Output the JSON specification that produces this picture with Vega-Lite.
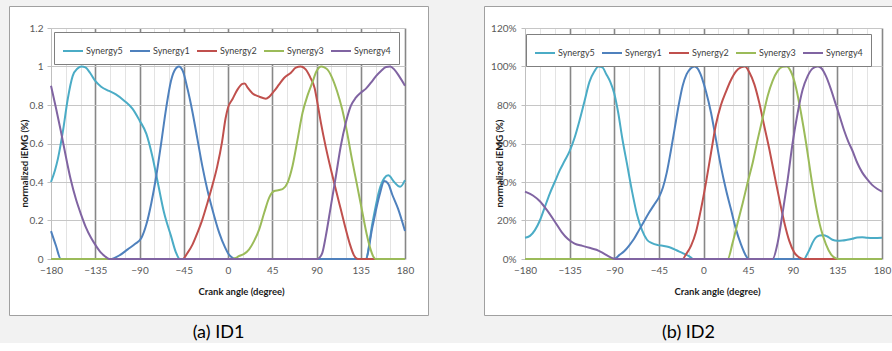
{
  "$schema": "https://vega.github.io/schema/vega-lite/v6.json",
  "background": "#f2f2f2",
  "padding": {"left": 8, "top": 5, "right": 0, "bottom": 0},
  "spacing": 54,
  "resolve": {"scale": {"color": "independent"}, "legend": {"color": "independent"}},
  "config": {
    "font": "Lato",
    "view": {"fill": "white", "stroke": "#a0a0a0", "strokeWidth": 1},
    "axis": {"labelFont": "Lato", "labelFontSize": 10, "labelColor": "#595959", "titleFont": "Lato", "titleFontSize": 9.5, "titleFontWeight": "bold", "titleColor": "#1a1a1a", "domainColor": "#bfbfbf", "tickColor": "#bfbfbf", "labelOverlap": false},
    "legend": {"orient": "none", "direction": "horizontal", "columns": 5, "title": null, "symbolType": "stroke", "symbolSize": 400, "symbolStrokeWidth": 2, "labelFont": "Lato", "labelFontSize": 9, "labelColor": "#404040", "fillColor": "white", "strokeColor": "#7f7f7f", "padding": 8, "columnPadding": 3, "labelOffset": 2},
    "title": {"font": "Lato", "fontSize": 18, "fontWeight": "normal", "color": "#000000"}
  },
  "datasets": {
    "id1": [
      {"s":"Synergy5","a":-180,"v":0.40},{"s":"Synergy5","a":-176,"v":0.46},{"s":"Synergy5","a":-173,"v":0.52},{"s":"Synergy5","a":-168,"v":0.66},{"s":"Synergy5","a":-163,"v":0.83},{"s":"Synergy5","a":-158,"v":0.95},{"s":"Synergy5","a":-153,"v":0.99},{"s":"Synergy5","a":-149,"v":1.0},{"s":"Synergy5","a":-145,"v":0.995},{"s":"Synergy5","a":-140,"v":0.965},{"s":"Synergy5","a":-135,"v":0.925},{"s":"Synergy5","a":-129,"v":0.895},{"s":"Synergy5","a":-121,"v":0.873},{"s":"Synergy5","a":-114,"v":0.855},{"s":"Synergy5","a":-105,"v":0.82},{"s":"Synergy5","a":-97,"v":0.78},{"s":"Synergy5","a":-90,"v":0.72},{"s":"Synergy5","a":-83,"v":0.65},{"s":"Synergy5","a":-77,"v":0.535},{"s":"Synergy5","a":-71.5,"v":0.40},{"s":"Synergy5","a":-65,"v":0.24},{"s":"Synergy5","a":-58,"v":0.12},{"s":"Synergy5","a":-53,"v":0.035},{"s":"Synergy5","a":-49,"v":0},{"s":"Synergy5","a":140,"v":0},{"s":"Synergy5","a":147,"v":0.19},{"s":"Synergy5","a":154,"v":0.36},{"s":"Synergy5","a":159,"v":0.42},{"s":"Synergy5","a":163,"v":0.435},{"s":"Synergy5","a":169,"v":0.40},{"s":"Synergy5","a":175,"v":0.375},{"s":"Synergy5","a":180,"v":0.41},
      {"s":"Synergy1","a":-180,"v":0.145},{"s":"Synergy1","a":-175,"v":0.07},{"s":"Synergy1","a":-170,"v":0},{"s":"Synergy1","a":-120,"v":0},{"s":"Synergy1","a":-110,"v":0.02},{"s":"Synergy1","a":-102,"v":0.05},{"s":"Synergy1","a":-94,"v":0.08},{"s":"Synergy1","a":-88,"v":0.11},{"s":"Synergy1","a":-83,"v":0.18},{"s":"Synergy1","a":-78,"v":0.29},{"s":"Synergy1","a":-73,"v":0.43},{"s":"Synergy1","a":-68,"v":0.60},{"s":"Synergy1","a":-63,"v":0.78},{"s":"Synergy1","a":-58,"v":0.925},{"s":"Synergy1","a":-53,"v":0.99},{"s":"Synergy1","a":-50,"v":1.0},{"s":"Synergy1","a":-46,"v":0.977},{"s":"Synergy1","a":-41,"v":0.88},{"s":"Synergy1","a":-36,"v":0.76},{"s":"Synergy1","a":-31,"v":0.62},{"s":"Synergy1","a":-26,"v":0.48},{"s":"Synergy1","a":-21,"v":0.36},{"s":"Synergy1","a":-16,"v":0.26},{"s":"Synergy1","a":-9,"v":0.137},{"s":"Synergy1","a":-3,"v":0.06},{"s":"Synergy1","a":0,"v":0.03},{"s":"Synergy1","a":5,"v":0.005},{"s":"Synergy1","a":8,"v":0},{"s":"Synergy1","a":140,"v":0},{"s":"Synergy1","a":147,"v":0.17},{"s":"Synergy1","a":154,"v":0.33},{"s":"Synergy1","a":159,"v":0.405},{"s":"Synergy1","a":163,"v":0.39},{"s":"Synergy1","a":167,"v":0.335},{"s":"Synergy1","a":173,"v":0.26},{"s":"Synergy1","a":180,"v":0.145},
      {"s":"Synergy2","a":-180,"v":0},{"s":"Synergy2","a":-46,"v":0},{"s":"Synergy2","a":-41,"v":0.033},{"s":"Synergy2","a":-36,"v":0.076},{"s":"Synergy2","a":-31,"v":0.137},{"s":"Synergy2","a":-26,"v":0.206},{"s":"Synergy2","a":-21,"v":0.29},{"s":"Synergy2","a":-16,"v":0.38},{"s":"Synergy2","a":-11,"v":0.48},{"s":"Synergy2","a":-6,"v":0.61},{"s":"Synergy2","a":-2.5,"v":0.73},{"s":"Synergy2","a":0,"v":0.786},{"s":"Synergy2","a":4.5,"v":0.83},{"s":"Synergy2","a":9.6,"v":0.88},{"s":"Synergy2","a":14.7,"v":0.91},{"s":"Synergy2","a":17,"v":0.912},{"s":"Synergy2","a":20,"v":0.89},{"s":"Synergy2","a":25,"v":0.86},{"s":"Synergy2","a":32,"v":0.843},{"s":"Synergy2","a":38.5,"v":0.833},{"s":"Synergy2","a":42,"v":0.843},{"s":"Synergy2","a":47,"v":0.873},{"s":"Synergy2","a":52,"v":0.907},{"s":"Synergy2","a":57,"v":0.94},{"s":"Synergy2","a":64,"v":0.968},{"s":"Synergy2","a":69,"v":0.994},{"s":"Synergy2","a":74,"v":1.0},{"s":"Synergy2","a":79,"v":0.985},{"s":"Synergy2","a":84,"v":0.94},{"s":"Synergy2","a":88,"v":0.89},{"s":"Synergy2","a":91,"v":0.81},{"s":"Synergy2","a":94.4,"v":0.71},{"s":"Synergy2","a":99.5,"v":0.58},{"s":"Synergy2","a":104.6,"v":0.466},{"s":"Synergy2","a":109.7,"v":0.36},{"s":"Synergy2","a":114.7,"v":0.258},{"s":"Synergy2","a":119.8,"v":0.154},{"s":"Synergy2","a":124,"v":0.076},{"s":"Synergy2","a":128,"v":0.02},{"s":"Synergy2","a":132,"v":0},{"s":"Synergy2","a":180,"v":0},
      {"s":"Synergy3","a":-180,"v":0},{"s":"Synergy3","a":3,"v":0},{"s":"Synergy3","a":8,"v":0.005},{"s":"Synergy3","a":11,"v":0.015},{"s":"Synergy3","a":16,"v":0.025},{"s":"Synergy3","a":21.5,"v":0.05},{"s":"Synergy3","a":26.6,"v":0.094},{"s":"Synergy3","a":31.7,"v":0.154},{"s":"Synergy3","a":36.8,"v":0.24},{"s":"Synergy3","a":42,"v":0.32},{"s":"Synergy3","a":47,"v":0.353},{"s":"Synergy3","a":52,"v":0.358},{"s":"Synergy3","a":56,"v":0.365},{"s":"Synergy3","a":60.6,"v":0.397},{"s":"Synergy3","a":65.6,"v":0.483},{"s":"Synergy3","a":70.7,"v":0.62},{"s":"Synergy3","a":75.8,"v":0.76},{"s":"Synergy3","a":80.9,"v":0.85},{"s":"Synergy3","a":86,"v":0.92},{"s":"Synergy3","a":90,"v":0.975},{"s":"Synergy3","a":95,"v":1.0},{"s":"Synergy3","a":98,"v":0.995},{"s":"Synergy3","a":101,"v":0.985},{"s":"Synergy3","a":106,"v":0.94},{"s":"Synergy3","a":111,"v":0.87},{"s":"Synergy3","a":116,"v":0.78},{"s":"Synergy3","a":121,"v":0.66},{"s":"Synergy3","a":126,"v":0.52},{"s":"Synergy3","a":131,"v":0.39},{"s":"Synergy3","a":136,"v":0.26},{"s":"Synergy3","a":141,"v":0.13},{"s":"Synergy3","a":145,"v":0.05},{"s":"Synergy3","a":148,"v":0.01},{"s":"Synergy3","a":150,"v":0},{"s":"Synergy3","a":180,"v":0},
      {"s":"Synergy4","a":-180,"v":0.90},{"s":"Synergy4","a":-175,"v":0.786},{"s":"Synergy4","a":-170,"v":0.665},{"s":"Synergy4","a":-165,"v":0.535},{"s":"Synergy4","a":-160,"v":0.414},{"s":"Synergy4","a":-154.6,"v":0.31},{"s":"Synergy4","a":-149.5,"v":0.232},{"s":"Synergy4","a":-144.4,"v":0.163},{"s":"Synergy4","a":-139.3,"v":0.11},{"s":"Synergy4","a":-134.2,"v":0.068},{"s":"Synergy4","a":-129.2,"v":0.033},{"s":"Synergy4","a":-124,"v":0.01},{"s":"Synergy4","a":-120.5,"v":0},{"s":"Synergy4","a":91,"v":0},{"s":"Synergy4","a":93,"v":0.007},{"s":"Synergy4","a":96,"v":0.033},{"s":"Synergy4","a":99.5,"v":0.12},{"s":"Synergy4","a":104.6,"v":0.275},{"s":"Synergy4","a":109.7,"v":0.43},{"s":"Synergy4","a":114.7,"v":0.587},{"s":"Synergy4","a":119.8,"v":0.708},{"s":"Synergy4","a":124.9,"v":0.795},{"s":"Synergy4","a":130,"v":0.838},{"s":"Synergy4","a":135,"v":0.864},{"s":"Synergy4","a":140.3,"v":0.885},{"s":"Synergy4","a":145.4,"v":0.916},{"s":"Synergy4","a":150.5,"v":0.95},{"s":"Synergy4","a":155.6,"v":0.977},{"s":"Synergy4","a":160.7,"v":0.997},{"s":"Synergy4","a":165,"v":1.0},{"s":"Synergy4","a":169,"v":0.985},{"s":"Synergy4","a":174,"v":0.95},{"s":"Synergy4","a":180,"v":0.90}
    ],
    "id2": [
      {"s":"Synergy5","a":-180,"v":0.11},{"s":"Synergy5","a":-175,"v":0.12},{"s":"Synergy5","a":-170,"v":0.15},{"s":"Synergy5","a":-165,"v":0.20},{"s":"Synergy5","a":-160,"v":0.27},{"s":"Synergy5","a":-155,"v":0.34},{"s":"Synergy5","a":-150,"v":0.40},{"s":"Synergy5","a":-145,"v":0.46},{"s":"Synergy5","a":-140,"v":0.51},{"s":"Synergy5","a":-135,"v":0.56},{"s":"Synergy5","a":-130,"v":0.63},{"s":"Synergy5","a":-125,"v":0.72},{"s":"Synergy5","a":-120,"v":0.82},{"s":"Synergy5","a":-115,"v":0.92},{"s":"Synergy5","a":-110,"v":0.975},{"s":"Synergy5","a":-106,"v":1.0},{"s":"Synergy5","a":-102,"v":0.995},{"s":"Synergy5","a":-98,"v":0.96},{"s":"Synergy5","a":-94,"v":0.92},{"s":"Synergy5","a":-90,"v":0.86},{"s":"Synergy5","a":-86,"v":0.76},{"s":"Synergy5","a":-82,"v":0.63},{"s":"Synergy5","a":-77,"v":0.49},{"s":"Synergy5","a":-72,"v":0.35},{"s":"Synergy5","a":-67,"v":0.23},{"s":"Synergy5","a":-62,"v":0.15},{"s":"Synergy5","a":-57,"v":0.10},{"s":"Synergy5","a":-52,"v":0.082},{"s":"Synergy5","a":-46,"v":0.072},{"s":"Synergy5","a":-40,"v":0.068},{"s":"Synergy5","a":-35,"v":0.062},{"s":"Synergy5","a":-30,"v":0.052},{"s":"Synergy5","a":-25,"v":0.04},{"s":"Synergy5","a":-20,"v":0.028},{"s":"Synergy5","a":-15,"v":0.016},{"s":"Synergy5","a":-12,"v":0.005},{"s":"Synergy5","a":-10.5,"v":0},{"s":"Synergy5","a":101.5,"v":0},{"s":"Synergy5","a":104,"v":0.02},{"s":"Synergy5","a":107,"v":0.05},{"s":"Synergy5","a":110,"v":0.085},{"s":"Synergy5","a":113,"v":0.11},{"s":"Synergy5","a":117,"v":0.122},{"s":"Synergy5","a":121,"v":0.124},{"s":"Synergy5","a":125,"v":0.117},{"s":"Synergy5","a":130,"v":0.10},{"s":"Synergy5","a":135,"v":0.095},{"s":"Synergy5","a":140,"v":0.096},{"s":"Synergy5","a":145,"v":0.10},{"s":"Synergy5","a":150,"v":0.105},{"s":"Synergy5","a":155,"v":0.112},{"s":"Synergy5","a":160,"v":0.113},{"s":"Synergy5","a":165,"v":0.11},{"s":"Synergy5","a":172,"v":0.109},{"s":"Synergy5","a":180,"v":0.11},
      {"s":"Synergy1","a":-180,"v":0},{"s":"Synergy1","a":-92,"v":0},{"s":"Synergy1","a":-89,"v":0.003},{"s":"Synergy1","a":-85,"v":0.02},{"s":"Synergy1","a":-80,"v":0.04},{"s":"Synergy1","a":-75,"v":0.07},{"s":"Synergy1","a":-70,"v":0.105},{"s":"Synergy1","a":-65,"v":0.15},{"s":"Synergy1","a":-60,"v":0.195},{"s":"Synergy1","a":-55,"v":0.24},{"s":"Synergy1","a":-50,"v":0.28},{"s":"Synergy1","a":-45,"v":0.32},{"s":"Synergy1","a":-41,"v":0.37},{"s":"Synergy1","a":-37,"v":0.45},{"s":"Synergy1","a":-33,"v":0.56},{"s":"Synergy1","a":-29,"v":0.68},{"s":"Synergy1","a":-25,"v":0.8},{"s":"Synergy1","a":-21,"v":0.9},{"s":"Synergy1","a":-17,"v":0.96},{"s":"Synergy1","a":-13,"v":0.99},{"s":"Synergy1","a":-9,"v":1.0},{"s":"Synergy1","a":-6,"v":0.99},{"s":"Synergy1","a":-3,"v":0.96},{"s":"Synergy1","a":0,"v":0.915},{"s":"Synergy1","a":2.5,"v":0.87},{"s":"Synergy1","a":7.6,"v":0.76},{"s":"Synergy1","a":12.6,"v":0.62},{"s":"Synergy1","a":17.6,"v":0.48},{"s":"Synergy1","a":22.7,"v":0.36},{"s":"Synergy1","a":27.7,"v":0.258},{"s":"Synergy1","a":32.8,"v":0.154},{"s":"Synergy1","a":37.8,"v":0.076},{"s":"Synergy1","a":42.9,"v":0.016},{"s":"Synergy1","a":45.5,"v":0},{"s":"Synergy1","a":180,"v":0},
      {"s":"Synergy2","a":-180,"v":0},{"s":"Synergy2","a":-21,"v":0},{"s":"Synergy2","a":-17.7,"v":0.024},{"s":"Synergy2","a":-12.6,"v":0.068},{"s":"Synergy2","a":-7.6,"v":0.14},{"s":"Synergy2","a":-2.5,"v":0.26},{"s":"Synergy2","a":2.5,"v":0.397},{"s":"Synergy2","a":7.6,"v":0.552},{"s":"Synergy2","a":12.6,"v":0.70},{"s":"Synergy2","a":17.6,"v":0.80},{"s":"Synergy2","a":22.7,"v":0.87},{"s":"Synergy2","a":27.7,"v":0.93},{"s":"Synergy2","a":32.8,"v":0.975},{"s":"Synergy2","a":37.8,"v":0.995},{"s":"Synergy2","a":41.8,"v":1.0},{"s":"Synergy2","a":46.2,"v":0.97},{"s":"Synergy2","a":51.3,"v":0.907},{"s":"Synergy2","a":56.3,"v":0.81},{"s":"Synergy2","a":61.3,"v":0.69},{"s":"Synergy2","a":66.4,"v":0.57},{"s":"Synergy2","a":71.4,"v":0.44},{"s":"Synergy2","a":76.5,"v":0.31},{"s":"Synergy2","a":81.5,"v":0.19},{"s":"Synergy2","a":86.5,"v":0.094},{"s":"Synergy2","a":91.6,"v":0.033},{"s":"Synergy2","a":96,"v":0.01},{"s":"Synergy2","a":101,"v":0},{"s":"Synergy2","a":180,"v":0},
      {"s":"Synergy3","a":-180,"v":0},{"s":"Synergy3","a":24.4,"v":0},{"s":"Synergy3","a":29.4,"v":0.085},{"s":"Synergy3","a":34.5,"v":0.19},{"s":"Synergy3","a":39.5,"v":0.29},{"s":"Synergy3","a":44.5,"v":0.397},{"s":"Synergy3","a":49.6,"v":0.50},{"s":"Synergy3","a":54.6,"v":0.62},{"s":"Synergy3","a":59.7,"v":0.734},{"s":"Synergy3","a":64.7,"v":0.847},{"s":"Synergy3","a":69.7,"v":0.925},{"s":"Synergy3","a":74.8,"v":0.977},{"s":"Synergy3","a":79.8,"v":0.998},{"s":"Synergy3","a":84,"v":1.0},{"s":"Synergy3","a":88,"v":0.975},{"s":"Synergy3","a":93.3,"v":0.89},{"s":"Synergy3","a":98.3,"v":0.76},{"s":"Synergy3","a":103.4,"v":0.604},{"s":"Synergy3","a":108.4,"v":0.43},{"s":"Synergy3","a":113.4,"v":0.275},{"s":"Synergy3","a":118.5,"v":0.154},{"s":"Synergy3","a":123.5,"v":0.076},{"s":"Synergy3","a":128.6,"v":0.024},{"s":"Synergy3","a":133.6,"v":0.003},{"s":"Synergy3","a":136,"v":0},{"s":"Synergy3","a":180,"v":0},
      {"s":"Synergy4","a":-180,"v":0.35},{"s":"Synergy4","a":-172,"v":0.33},{"s":"Synergy4","a":-165,"v":0.30},{"s":"Synergy4","a":-158,"v":0.255},{"s":"Synergy4","a":-150,"v":0.195},{"s":"Synergy4","a":-143,"v":0.14},{"s":"Synergy4","a":-137,"v":0.105},{"s":"Synergy4","a":-130,"v":0.08},{"s":"Synergy4","a":-122,"v":0.068},{"s":"Synergy4","a":-115,"v":0.058},{"s":"Synergy4","a":-108,"v":0.048},{"s":"Synergy4","a":-102,"v":0.033},{"s":"Synergy4","a":-96,"v":0.015},{"s":"Synergy4","a":-91,"v":0.003},{"s":"Synergy4","a":-88,"v":0},{"s":"Synergy4","a":69.7,"v":0},{"s":"Synergy4","a":74.8,"v":0.085},{"s":"Synergy4","a":79.8,"v":0.24},{"s":"Synergy4","a":84.9,"v":0.414},{"s":"Synergy4","a":89.9,"v":0.604},{"s":"Synergy4","a":95,"v":0.76},{"s":"Synergy4","a":100,"v":0.88},{"s":"Synergy4","a":105,"v":0.95},{"s":"Synergy4","a":110,"v":0.99},{"s":"Synergy4","a":115,"v":1.0},{"s":"Synergy4","a":118.5,"v":0.993},{"s":"Synergy4","a":123.5,"v":0.95},{"s":"Synergy4","a":128.6,"v":0.88},{"s":"Synergy4","a":133.6,"v":0.80},{"s":"Synergy4","a":138,"v":0.73},{"s":"Synergy4","a":142,"v":0.665},{"s":"Synergy4","a":146,"v":0.61},{"s":"Synergy4","a":150,"v":0.565},{"s":"Synergy4","a":155,"v":0.50},{"s":"Synergy4","a":160,"v":0.45},{"s":"Synergy4","a":165,"v":0.415},{"s":"Synergy4","a":170,"v":0.385},{"s":"Synergy4","a":175,"v":0.365},{"s":"Synergy4","a":180,"v":0.35}
    ]
  },
  "hconcat": [
    {
      "width": 419,
      "height": 309,
      "data": {"name": "id1"},
      "title": {"text": "(a) ID1", "orient": "bottom", "anchor": "middle", "dx": 0, "offset": 9},
      "layer": [
        {
          "mark": {"type": "point", "opacity": 0},
          "encoding": {
            "x": {"field": "a", "type": "quantitative", "scale": {"domain": [-180, 180], "range": [42, 396], "nice": false, "zero": false},
              "axis": {"orient": "top", "values": [-180,-165,-150,-135,-120,-105,-90,-75,-60,-45,-30,-15,0,15,30,45,60,75,90,105,120,135,150,165,180], "grid": true, "labels": false, "ticks": false, "domain": false, "title": null,
                "gridColor": {"condition": {"test": "datum.value % 45 === 0 && datum.value > -180", "value": "#878787"}, "value": "#e3e3e3"},
                "gridWidth": {"condition": {"test": "datum.value % 45 === 0 && datum.value > -180", "value": 1.6}, "value": 1}}},
            "y": {"field": "v", "type": "quantitative", "scale": {"domain": [0, 1.2], "range": [253, 22], "nice": false, "zero": false},
              "axis": {"orient": "left", "offset": -42, "values": [0, 0.2, 0.4, 0.6, 0.8, 1, 1.2], "format": "~g", "grid": true, "gridColor": "#c6c6c6", "domain": true, "ticks": true, "tickSize": 4, "labelPadding": 4, "title": "normalized iEMG (%)", "titleX": -27, "titleY": 157, "titleAngle": -90, "titleAlign": "center", "titleBaseline": "middle"}}
          }
        },
        {
          "mark": {"type": "line", "strokeWidth": 2, "interpolate": "monotone"},
          "encoding": {
            "x": {"field": "a", "type": "quantitative",
              "axis": {"orient": "bottom", "offset": -56, "values": [-180,-135,-90,-45,0,45,90,135,180], "grid": false, "ticks": false, "domain": true, "labelPadding": 6, "labelFlush": false, "title": "Crank angle (degree)", "titleX": 232, "titleY": 32, "titleAlign": "center", "titleBaseline": "middle"}},
            "y": {"field": "v", "type": "quantitative", "axis": null},
            "color": {"field": "s", "type": "nominal",
              "scale": {"domain": ["Synergy5","Synergy1","Synergy2","Synergy3","Synergy4"], "range": ["#4bacc6","#4f81bd","#c0504d","#9bbb59","#8064a2"]},
              "legend": {"legendX": 45, "legendY": 26}}
          }
        }
      ],
      "resolve": {"axis": {"x": "independent", "y": "independent"}}
    },
    {
      "width": 409,
      "height": 309,
      "data": {"name": "id2"},
      "title": {"text": "(b) ID2", "orient": "bottom", "anchor": "middle", "dx": 0, "offset": 9},
      "layer": [
        {
          "mark": {"type": "point", "opacity": 0},
          "encoding": {
            "x": {"field": "a", "type": "quantitative", "scale": {"domain": [-180, 180], "range": [41, 398], "nice": false, "zero": false},
              "axis": {"orient": "top", "values": [-180,-165,-150,-135,-120,-105,-90,-75,-60,-45,-30,-15,0,15,30,45,60,75,90,105,120,135,150,165,180], "grid": true, "labels": false, "ticks": false, "domain": false, "title": null,
                "gridColor": {"condition": {"test": "datum.value % 45 === 0 && datum.value > -180", "value": "#878787"}, "value": "#e3e3e3"},
                "gridWidth": {"condition": {"test": "datum.value % 45 === 0 && datum.value > -180", "value": 1.6}, "value": 1}}},
            "y": {"field": "v", "type": "quantitative", "scale": {"domain": [0, 1.2], "range": [253, 22], "nice": false, "zero": false},
              "axis": {"orient": "left", "offset": -41, "values": [0, 0.2, 0.4, 0.6, 0.8, 1, 1.2], "format": ".0%", "grid": true, "gridColor": "#c6c6c6", "domain": true, "ticks": true, "tickSize": 4, "labelPadding": 5, "title": "normalized iEMG (%)", "titleX": -26, "titleY": 157, "titleAngle": -90, "titleAlign": "center", "titleBaseline": "middle"}}
          }
        },
        {
          "mark": {"type": "line", "strokeWidth": 2, "interpolate": "monotone"},
          "encoding": {
            "x": {"field": "a", "type": "quantitative",
              "axis": {"orient": "bottom", "offset": -56, "values": [-180,-135,-90,-45,0,45,90,135,180], "grid": false, "ticks": false, "domain": true, "labelPadding": 6, "labelFlush": false, "title": "Crank angle (degree)", "titleX": 233, "titleY": 32, "titleAlign": "center", "titleBaseline": "middle"}},
            "y": {"field": "v", "type": "quantitative", "axis": null},
            "color": {"field": "s", "type": "nominal",
              "scale": {"domain": ["Synergy5","Synergy1","Synergy2","Synergy3","Synergy4"], "range": ["#4bacc6","#4f81bd","#c0504d","#9bbb59","#8064a2"]},
              "legend": {"legendX": 42, "legendY": 28}}
          }
        }
      ],
      "resolve": {"axis": {"x": "independent", "y": "independent"}}
    }
  ]
}
